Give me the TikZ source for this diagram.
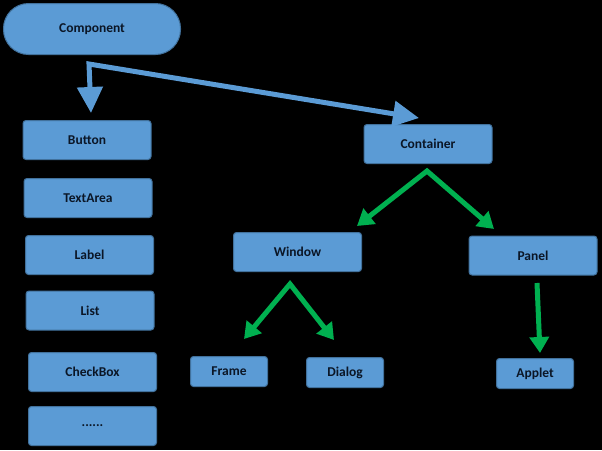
\documentclass[tikz,border=0pt]{standalone}
\usepackage{fontspec}
\setmainfont{Carlito}
\usetikzlibrary{arrows.meta}
\definecolor{boxblue}{HTML}{5B9BD5}
\definecolor{boxline}{HTML}{41719C}
\definecolor{arrgreen}{HTML}{00B050}
\definecolor{txt}{HTML}{0B1626}
\begin{document}
\begin{tikzpicture}[x=1pt,y=-1pt,
	box/.style={draw=boxline,fill=boxblue,rounded corners=3pt,line width=1pt,text=txt,
		font=\bfseries\fontsize{13.5}{15}\selectfont,minimum width=128pt,minimum height=39pt,inner sep=0pt},
	smallbox/.style={box,minimum width=77pt,minimum height=30pt},
	bluearrow/.style={draw=boxblue,line width=5pt,line join=miter},
	greenarrow/.style={draw=arrgreen,line width=5pt,line join=miter},
	bigtip/.tip={Triangle[length=26pt,width=25pt]},
	greentip/.tip={Triangle[length=16pt,width=19pt]}]
	\fill[black](0,0)rectangle(602,450);
	% top of the tree
	\node[box,rounded corners=25pt,minimum width=177pt,minimum height=51pt](component)at(92,29){Component};
	% left column
	\node[box](button)at(87,140){Button};
	\node[box](textarea)at(88,198){TextArea};
	\node[box](label)at(89.5,255){Label};
	\node[box](list)at(90,310.5){List};
	\node[box](checkbox)at(92.5,372){CheckBox};
	\node[box](dots)at(92.5,426){......};
	% right part
	\node[box](container)at(428,144){Container};
	\node[box](window)at(297.5,252){Window};
	\node[box](panel)at(533,255.5){Panel};
	\node[smallbox](frame)at(229,371.5){Frame};
	\node[smallbox](dialog)at(345,372.5){Dialog};
	\node[smallbox](applet)at(535,373.5){Applet};
	% arrow ends
	\coordinate(split)at(89,64);
	\coordinate(btip)at(91,113);
	\coordinate(ctip)at(419,118);
	\coordinate(capex)at(427,171);
	\coordinate(wtip)at(357,226);
	\coordinate(ptip)at(494,229);
	\coordinate(wapex)at(290,284);
	\coordinate(ftip)at(244,339);
	\coordinate(dtip)at(334,340);
	\coordinate(pstart)at(537,283);
	\coordinate(atip)at(540,353);
	\draw[bluearrow,{bigtip}-{bigtip}](btip)--(split)--(ctip);
	\draw[greenarrow,{greentip}-{greentip}](wtip)--(capex)--(ptip);
	\draw[greenarrow,{greentip}-{greentip}](ftip)--(wapex)--(dtip);
	\draw[greenarrow,-{greentip}](pstart)--(atip);
\end{tikzpicture}
\end{document}
